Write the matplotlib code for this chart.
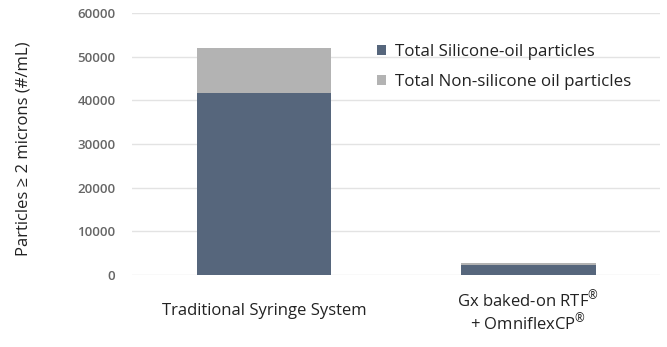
import numpy as np
import matplotlib.pyplot as plt

# data
categories = ['Traditional Syringe System',
              'Gx baked-on RTF$^{\u00ae}$\n+ OmniflexCP$^{\u00ae}$']
silicone = [41700, 2300]
non_silicone = [10200, 450]
yticks = [0, 10000, 20000, 30000, 40000, 50000, 60000]

plt.rcParams['font.family'] = ['Open Sans', 'DejaVu Sans']
plt.rcParams['mathtext.fontset'] = 'custom'
plt.rcParams['mathtext.rm'] = 'Open Sans'
plt.rcParams['mathtext.it'] = 'Open Sans'
plt.rcParams['mathtext.default'] = 'regular'

fig = plt.figure(figsize=(6.67, 3.47), dpi=100)
ax = fig.add_axes([0.198, 0.2075, 0.792, 0.755])

x = np.arange(len(categories))
ax.bar(x, silicone, width=0.51, color='#56667c', label='Total Silicone-oil particles', zorder=3)
ax.bar(x, non_silicone, width=0.51, bottom=silicone, color='#b3b3b3',
       label='Total Non-silicone oil particles', zorder=3)

ax.set_xlim(-0.5, 1.5)
ax.set_ylim(0, 60000)
ax.set_yticks(yticks)
ax.set_yticklabels([str(v) for v in yticks], fontsize=9.5, color='#666666', fontweight='semibold')
ax.set_xticks(x)
ax.set_xticklabels(categories, fontsize=12, color='#222222', linespacing=1.05, va='center')
ax.tick_params(axis='y', length=0, pad=12)
ax.tick_params(axis='x', length=0, pad=26)
ax.grid(axis='y', color='#e3e3e3', linewidth=1, zorder=0)
for s in ax.spines.values():
    s.set_visible(False)

fig.text(24 / 667, 0.57, 'Particles \u2265 2 microns (#/mL)', fontsize=12, color='#222222',
         rotation=90, ha='center', va='center')

ax.legend(loc='upper left', bbox_to_anchor=(0.435, 0.94), frameon=False, fontsize=12.2,
          handlelength=0.55, handleheight=0.55, handletextpad=0.5, labelspacing=0.85,
          labelcolor='#222222')

fig.savefig('out.png', dpi=100)
